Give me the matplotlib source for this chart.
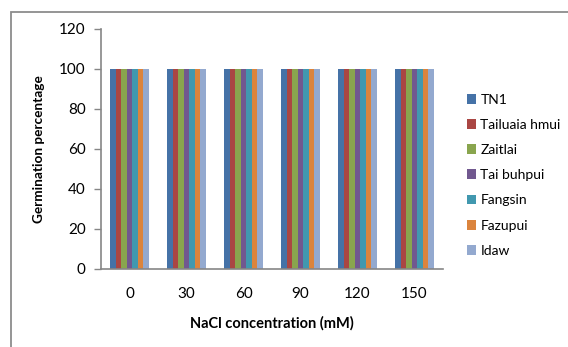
import numpy as np
import matplotlib.pyplot as plt
from matplotlib.patches import Rectangle

plt.rcParams['font.family'] = ['Lato', 'DejaVu Sans']

# NaCl levels and germination (%) for each rice variety
nacl = ['0', '30', '60', '90', '120', '150']
varieties = ['TN1', 'Tailuaia hmui', 'Zaitlai', 'Tai buhpui', 'Fangsin', 'Fazupui', 'Idaw']
tn1 = [100, 100, 100, 100, 100, 100]
tailuaia_hmui = [100, 100, 100, 100, 100, 100]
zaitlai = [100, 100, 100, 100, 100, 100]
tai_buhpui = [100, 100, 100, 100, 100, 100]
fangsin = [100, 100, 100, 100, 100, 100]
fazupui = [100, 100, 100, 100, 100, 100]
idaw = [100, 100, 100, 100, 100, 100]
series = [tn1, tailuaia_hmui, zaitlai, tai_buhpui, fangsin, fazupui, idaw]

colors = ['#4572A7', '#AA4643', '#89A54E', '#71588F', '#4198AF', '#DB843D', '#93A9CF']

fig = plt.figure(figsize=(5.68, 3.47), dpi=100)
W, H = 568, 347
ax = fig.add_axes([101 / W, 1 - 269 / H, (443 - 101) / W, (269 - 29) / H])

x = np.arange(len(nacl))
group = 1 / 1.46
bw = group / len(series)
for i, (vals, c) in enumerate(zip(series, colors)):
    ax.bar(x - group / 2 + bw * (i + 0.5), vals, width=bw, color=c,
           label=varieties[i], linewidth=0)

ax.set_xlim(-0.5, len(nacl) - 0.5)
ax.set_ylim(0, 120)
ax.set_yticks(range(0, 121, 20))
ax.set_xticks(x)
ax.set_xticklabels(nacl)
ax.tick_params(axis='x', length=0, pad=13, labelsize=11)
ax.tick_params(axis='y', length=5, width=1, color='#868686', pad=6, labelsize=11)
for s in ['top', 'right']:
    ax.spines[s].set_visible(False)
for s in ['left', 'bottom']:
    ax.spines[s].set_color('#868686')
    ax.spines[s].set_linewidth(1.2)

ax.set_xlabel('NaCl concentration (mM)', fontsize=10.5, fontweight='bold', labelpad=11)
ax.set_ylabel('Germination percentage', fontsize=9.8, fontweight='bold', labelpad=10)

leg = ax.legend(loc='upper left', bbox_to_anchor=(461 / W, 1 - 88 / H),
                bbox_transform=fig.transFigure, frameon=False, fontsize=10,
                handlelength=0.7, handleheight=0.7, handletextpad=0.3,
                labelspacing=0.95, borderaxespad=0)

# outer chart frame
fig.patches.append(Rectangle((11 / W, -0.1), 1.2, 1 - 12 / H + 0.1,
                             transform=fig.transFigure, fill=False,
                             edgecolor='#8c8c8c', linewidth=1.3))

fig.savefig('out.png', dpi=100)
